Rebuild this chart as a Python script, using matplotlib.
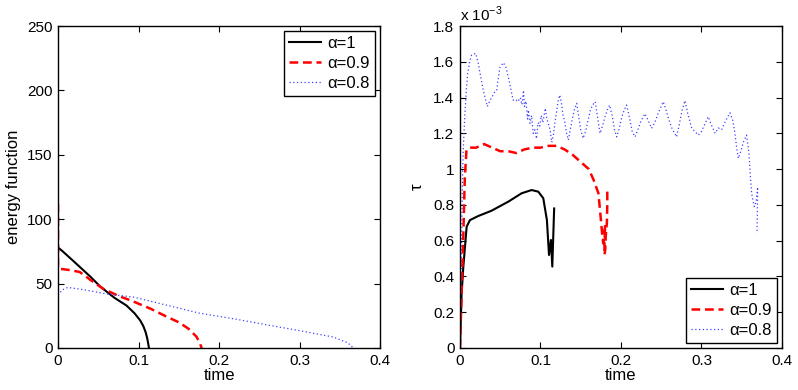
import matplotlib
matplotlib.use('Agg')
import matplotlib.pyplot as plt
from matplotlib.ticker import FuncFormatter

plt.rcParams['font.family'] = ['Liberation Sans', 'DejaVu Sans']
plt.rcParams['font.size'] = 11
plt.rcParams['mathtext.fontset'] = 'custom'
plt.rcParams['mathtext.rm'] = 'Liberation Sans'

# left panel: energy function vs time
t1_e = [0, 0.005, 0.02, 0.04, 0.052, 0.07, 0.085, 0.095, 0.102, 0.106, 0.109, 0.111, 0.113]
e1 = [78, 75.5, 67, 55.5, 48, 39, 33, 27, 21.5, 17, 12, 7, 0]
t09_e = [0, 0, 0.002, 0.015, 0.027, 0.04, 0.056, 0.075, 0.094, 0.115, 0.135, 0.15, 0.162, 0.172, 0.176, 0.1785]
e09 = [112, 62, 61.5, 60.5, 59, 53, 46, 40.5, 36, 30.5, 24.3, 20, 15, 8.8, 4, 0]
t08_e = [0, 0.005, 0.012, 0.03, 0.06, 0.094, 0.13, 0.176, 0.22, 0.259, 0.3, 0.342, 0.36, 0.367]
e08 = [41, 45, 47, 45.5, 42, 39.5, 34, 27, 22.5, 18, 13.5, 8.5, 4, 0]

# right panel: tau (x 1e-3) vs time
t1_tau = [0, 0.001, 0.002, 0.004, 0.0083, 0.0124, 0.0228, 0.039, 0.06, 0.0766, 0.089, 0.0973,
          0.1035, 0.108, 0.1106, 0.113, 0.1147, 0.117]
tau1 = [0, 0.15, 0.3, 0.445, 0.678, 0.715, 0.738, 0.767, 0.818, 0.865, 0.883, 0.874,
        0.837, 0.715, 0.52, 0.604, 0.455, 0.78]
t09_tau = [0, 0.002, 0.004, 0.006, 0.008, 0.011, 0.02, 0.03, 0.04, 0.05, 0.06, 0.07, 0.08, 0.09,
           0.1, 0.11, 0.12, 0.13, 0.14, 0.15, 0.16, 0.166, 0.172, 0.175, 0.177, 0.178, 0.1795,
           0.1805, 0.1795, 0.1795, 0.1805, 0.181, 0.1825, 0.183, 0.183]
tau09 = [0, 0.3, 0.6, 0.95, 1.1, 1.12, 1.12, 1.14, 1.12, 1.10, 1.10, 1.09, 1.11, 1.12,
         1.12, 1.13, 1.13, 1.11, 1.08, 1.04, 1.0, 0.94, 0.865, 0.72, 0.62, 0.585, 0.65,
         0.69, 0.60, 0.52, 0.55, 0.62, 0.70, 0.80, 0.88]
t08_tau = [0, 0.001, 0.002, 0.003, 0.004, 0.006, 0.008, 0.0096, 0.012, 0.0145, 0.0195, 0.0228,
           0.026, 0.029, 0.034, 0.037, 0.0394, 0.043, 0.0456, 0.048, 0.0497, 0.054, 0.057, 0.060,
           0.063, 0.066, 0.069, 0.072, 0.075, 0.077, 0.079, 0.080, 0.082, 0.084, 0.085, 0.087,
           0.089, 0.091, 0.093, 0.095, 0.097, 0.099, 0.101, 0.103, 0.106, 0.108, 0.110, 0.112,
           0.114, 0.116, 0.118, 0.120, 0.122, 0.124, 0.126, 0.128, 0.130, 0.1325, 0.1346, 0.137,
           0.140, 0.142, 0.145, 0.147, 0.150, 0.153, 0.156, 0.159, 0.162, 0.165, 0.168, 0.171,
           0.174, 0.177, 0.180, 0.183, 0.186, 0.189, 0.192, 0.1947, 0.198, 0.201, 0.204, 0.207,
           0.210, 0.214, 0.2174, 0.221, 0.225, 0.2298, 0.234, 0.238, 0.242, 0.246, 0.249, 0.2526,
           0.256, 0.260, 0.264, 0.267, 0.269, 0.272, 0.276, 0.2795, 0.283, 0.288, 0.292, 0.296,
           0.300, 0.304, 0.3085, 0.312, 0.317, 0.321, 0.325, 0.330, 0.3354, 0.339, 0.3416, 0.3437,
           0.3457, 0.349, 0.352, 0.356, 0.3575, 0.359, 0.3605, 0.3623, 0.3656, 0.368, 0.3698,
           0.3695, 0.369]
tau08 = [0, 0.3, 0.6, 0.9, 1.1, 1.3, 1.45, 1.535, 1.6, 1.638, 1.647, 1.59,
         1.51, 1.44, 1.35, 1.38, 1.40, 1.43, 1.44, 1.52, 1.57, 1.595, 1.57, 1.517,
         1.45, 1.386, 1.39, 1.377, 1.40, 1.36, 1.44, 1.35, 1.38, 1.28, 1.33, 1.256,
         1.30, 1.20, 1.22, 1.17, 1.26, 1.24, 1.30, 1.26, 1.34, 1.28, 1.25, 1.22,
         1.15, 1.19, 1.26, 1.32, 1.38, 1.414, 1.37, 1.30, 1.27, 1.20, 1.163, 1.22,
         1.29, 1.33, 1.368, 1.31, 1.22, 1.172, 1.21, 1.27, 1.33, 1.36, 1.377, 1.29,
         1.20, 1.24, 1.29, 1.33, 1.358, 1.30, 1.22, 1.18, 1.23, 1.29, 1.33, 1.358,
         1.30, 1.21, 1.18, 1.22, 1.27, 1.31, 1.27, 1.228, 1.26, 1.31, 1.34, 1.377,
         1.33, 1.27, 1.22, 1.20, 1.18, 1.24, 1.33, 1.383, 1.31, 1.228, 1.21, 1.19,
         1.21, 1.25, 1.293, 1.25, 1.20, 1.23, 1.22, 1.27, 1.315, 1.27, 1.20, 1.12,
         1.06, 1.10, 1.15, 1.19, 1.14, 1.088, 0.98, 0.865, 0.79, 0.82, 0.90,
         0.78, 0.64]

labels = ['α=1', 'α=0.9', 'α=0.8']
blue = '#4040ff'

fig = plt.figure(figsize=(7.98, 3.9), dpi=100)
ax1 = fig.add_axes([0.0727, 0.1077, 0.4035, 0.8256])
ax2 = fig.add_axes([0.5764, 0.1077, 0.4035, 0.8256])

ax1.plot(t1_e, e1, color='black', lw=1.5, label=labels[0])
ax1.plot(t09_e, e09, color='red', lw=1.8, ls=(0, (3.5, 1.9)), label=labels[1])
ax1.plot(t08_e, e08, color=blue, lw=0.9, ls=(0, (1, 2)), label=labels[2])

ax2.plot(t1_tau, tau1, color='black', lw=1.5, label=labels[0])
ax2.plot(t09_tau, tau09, color='red', lw=1.8, ls=(0, (3.5, 1.9)), label=labels[1])
ax2.plot(t08_tau, tau08, color=blue, lw=0.9, ls=(0, (1, 2)), label=labels[2])

fmt = FuncFormatter(lambda v, p: '%g' % round(v, 6))
for ax in (ax1, ax2):
    ax.set_xlim(0, 0.4)
    ax.set_xticks([0, 0.1, 0.2, 0.3, 0.4])
    ax.xaxis.set_major_formatter(fmt)
    ax.yaxis.set_major_formatter(fmt)
    ax.tick_params(direction='in', top=True, right=True, length=4, width=0.8, pad=4,
                   labelsize=11)
    for s in ax.spines.values():
        s.set_linewidth(1.0)
    ax.set_xlabel('time', labelpad=0, fontsize=12)

ax1.set_ylim(0, 250)
ax1.set_yticks([0, 50, 100, 150, 200, 250])
ax1.set_ylabel('energy function', labelpad=4, fontsize=12)

ax2.set_ylim(0, 1.8)
ax2.set_yticks([0, 0.2, 0.4, 0.6, 0.8, 1.0, 1.2, 1.4, 1.6, 1.8])
ax2.set_ylabel('τ', labelpad=6, fontsize=12)
ax2.text(0.0, 1.005, 'x 10$^{-3}$', transform=ax2.transAxes, ha='left', va='bottom',
         fontsize=11)

for ax, loc in ((ax1, 'upper right'), (ax2, 'lower right')):
    leg = ax.legend(loc=loc, fancybox=False, edgecolor='black', framealpha=1, fontsize=12,
                    handlelength=1.9, handletextpad=0.4, borderaxespad=0.3,
                    borderpad=0.3, labelspacing=0.3)
    leg.get_frame().set_linewidth(1.0)

fig.savefig('out.png', dpi=100)
